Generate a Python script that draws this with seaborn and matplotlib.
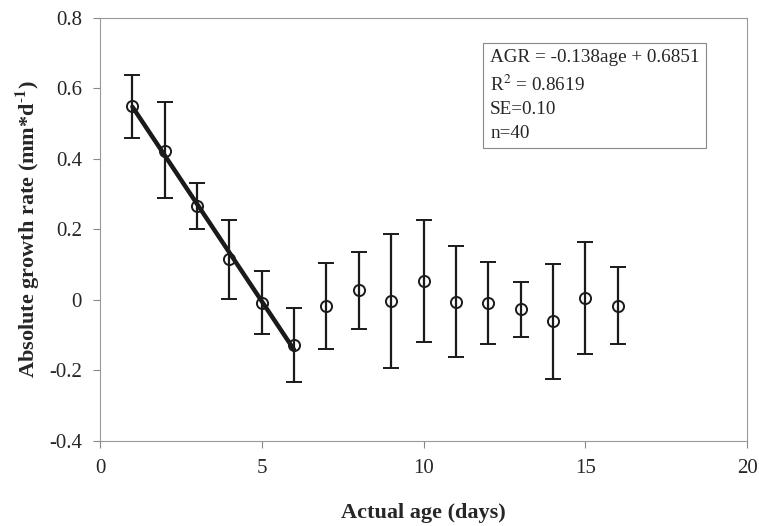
import numpy as np
import pandas as pd
import matplotlib
matplotlib.use('Agg')
import matplotlib.pyplot as plt
import seaborn as sns

# data
age = [1, 2, 3, 4, 5, 6, 7, 8, 9, 10, 11, 12, 13, 14, 15, 16]
agr_mean = [0.549, 0.424, 0.267, 0.115, -0.008, -0.127, -0.016, 0.027,
            -0.002, 0.054, -0.005, -0.008, -0.025, -0.061, 0.006, -0.017]
agr_upper = [0.637, 0.561, 0.332, 0.226, 0.083, -0.024, 0.105, 0.137,
             0.188, 0.228, 0.152, 0.108, 0.052, 0.101, 0.164, 0.093]
agr_lower = [0.459, 0.289, 0.200, 0.003, -0.097, -0.232, -0.138, -0.081,
             -0.192, -0.120, -0.162, -0.124, -0.104, -0.224, -0.154, -0.126]
fit_days = 6  # regression uses the first six days
stats_text = 'AGR = -0.138age + 0.6851\nR$^2$ = 0.8619\nSE=0.10\nn=40'

sns.set_style('ticks')
plt.rcParams['font.family'] = ['Liberation Serif', 'DejaVu Serif']
plt.rcParams['mathtext.fontset'] = 'stix'

df = pd.DataFrame({'age': age, 'agr': agr_mean,
                   'upper': agr_upper, 'lower': agr_lower})

fig = plt.figure(figsize=(7.59, 5.26), dpi=100)
ax = fig.add_axes([0.1318, 0.1616, 0.8524, 0.8042])

# linear fit over days 1-6
sns.regplot(data=df.iloc[:fit_days], x='age', y='agr', ci=None, ax=ax,
            scatter=False, truncate=True,
            line_kws={'color': '#1a1a1a', 'lw': 3.2, 'zorder': 2})

yerr = np.array([df['agr'] - df['lower'], df['upper'] - df['agr']])
ax.errorbar(df['age'], df['agr'], yerr=yerr, fmt='o', ms=8, mfc='none',
            mec='#1a1a1a', mew=1.4, ecolor='#1a1a1a', elinewidth=1.6,
            capsize=6, capthick=1.6, zorder=3)

ax.set_xlim(0, 20)
ax.set_ylim(-0.4, 0.8)
ax.set_xticks([0, 5, 10, 15, 20])
ax.set_yticks([-0.4, -0.2, 0, 0.2, 0.4, 0.6, 0.8])
ax.set_yticklabels(['-0.4', '-0.2', '0', '0.2', '0.4', '0.6', '0.8'])
ax.tick_params(labelsize=15, length=5, width=0.8, color='#888888', pad=8)

for s in ax.spines.values():
    s.set_color('#999999')
    s.set_linewidth(0.8)

ax.set_xlabel('Actual age (days)', fontsize=16, fontweight='bold', labelpad=18)
ax.set_ylabel('Absolute growth rate (mm*d$^{\\mathbf{\\text{-}1}}$)', fontsize=16,
              fontweight='bold', labelpad=5)

ax.text(0.603, 0.926, stats_text, transform=ax.transAxes, fontsize=13.8,
        va='top', ha='left', linespacing=1.5,
        bbox=dict(boxstyle='square,pad=0.35', fc='white', ec='#888888', lw=0.8))

fig.savefig('out.png', dpi=100)
